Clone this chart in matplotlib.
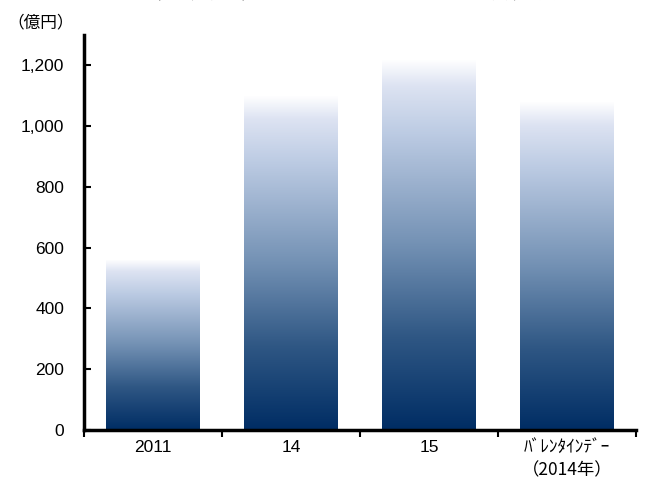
import numpy as np
import matplotlib
matplotlib.use("Agg")
import matplotlib.pyplot as plt
from matplotlib.colors import LinearSegmentedColormap
from matplotlib.ticker import FuncFormatter

plt.rcParams['font.family'] = ['Liberation Sans', 'Noto Sans CJK JP', 'DejaVu Sans']

# data (億円)
categories = ["2011", "14", "15", "ﾊﾞﾚﾝﾀｲﾝﾃﾞｰ\n（2014年）"]
values = [560, 1100, 1220, 1080]

# gradient: dark navy at the bottom, white at the top of each bar
grad = LinearSegmentedColormap.from_list(
    "navy_fade",
    [(0.0, "#002d64"), (0.25, "#2f5784"), (0.5, "#7391b4"),
     (0.8, "#bccbe3"), (0.93, "#dde3f2"), (1.0, "#ffffff")])

fig = plt.figure(figsize=(6.55, 4.9), dpi=100)
ax = fig.add_axes([0.128, 0.1224, 0.843, 0.8062])

x = np.arange(len(categories))
bars = ax.bar(x, values, width=0.68, color="none", edgecolor="none")
ramp = np.linspace(0, 1, 256).reshape(-1, 1)
for b in bars:
    x0, y0 = b.get_x(), b.get_y()
    w, h = b.get_width(), b.get_height()
    im = ax.imshow(ramp, cmap=grad, origin="lower", aspect="auto",
                   extent=[x0, x0 + w, y0, y0 + h], zorder=2)
    im.set_clip_path(b)

ax.set_xlim(-0.5, len(categories) - 0.5)
ax.set_ylim(0, 1300)
ax.set_yticks(range(0, 1201, 200))
ax.yaxis.set_major_formatter(FuncFormatter(lambda v, p: f"{int(v):,}"))
ax.tick_params(axis="y", direction="in", length=5, width=1.5, labelsize=12.5, pad=14)

# category labels between boundary ticks
ax.set_xticks(np.arange(-0.5, len(categories), 1.0))
ax.set_xticklabels([])
ax.tick_params(axis="x", direction="out", length=5, width=1.5)
for i, lab in enumerate(categories):
    if "\n" in lab:
        ax.text(i, -28, lab, ha="center", va="top", fontsize=12.5,
                linespacing=1.35, family=['Noto Sans CJK JP', 'DejaVu Sans'])
    else:
        ax.text(i, -33, lab, ha="center", va="top", fontsize=12.5)

for s in ["top", "right"]:
    ax.spines[s].set_visible(False)
ax.spines["left"].set_linewidth(2.5)
ax.spines["bottom"].set_linewidth(2.5)

fig.text(0.012, 0.935, "（億円）", fontsize=12, ha="left", va="bottom",
         family=['Noto Sans CJK JP', 'DejaVu Sans'])
# title, mostly cut off by the top of the picture as in the source
fig.text(0.53, 1.018, "（図表１）ハロウィーンの市場規模", fontsize=19, ha="center",
         va="center", family=['Noto Sans CJK JP', 'DejaVu Sans'])

fig.savefig("out.png", dpi=100)
